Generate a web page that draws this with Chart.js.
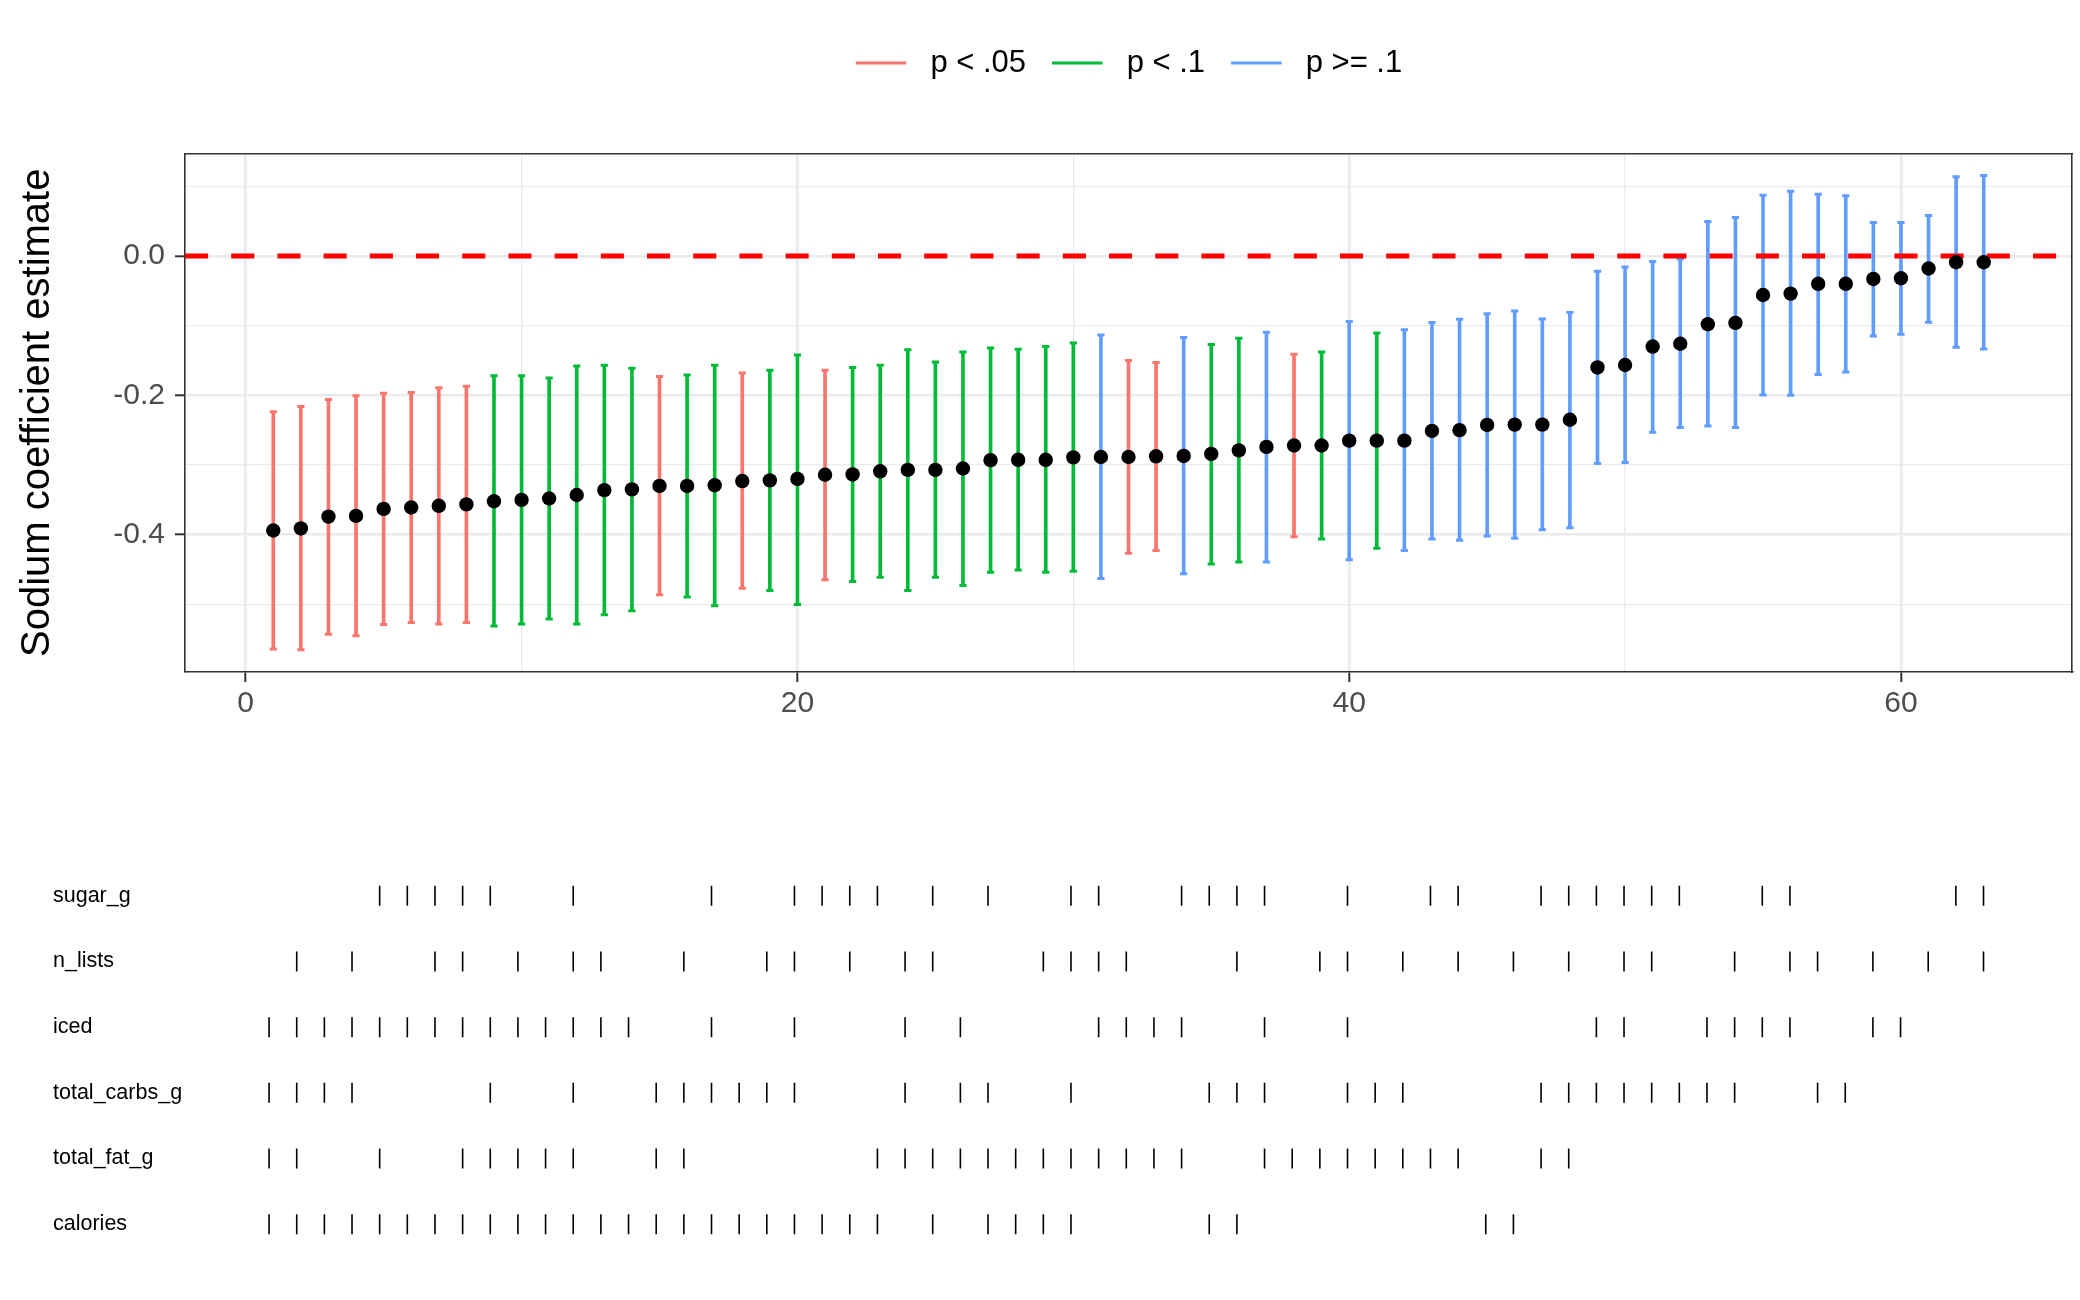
<!DOCTYPE html>
<html><head><meta charset="utf-8">
<script src="https://cdn.jsdelivr.net/npm/chart.js@4.4.0/dist/chart.umd.min.js"></script>
<style>
html,body{margin:0;padding:0;background:#fff;width:2080px;height:1300px;overflow:hidden;}
#top{position:absolute;left:0;top:0;width:2080px;height:732px;}
#bot{position:absolute;left:0;top:850px;width:2080px;height:420px;}
</style></head><body>
<div id="top"><canvas id="c1"></canvas></div>
<div id="bot"><canvas id="c2"></canvas></div>
<script>
// ---------- data ----------
const specIndex = [1,2,3,4,5,6,7,8,9,10,11,12,13,14,15,16,17,18,19,20,21,22,23,24,25,26,27,28,29,30,31,32,33,34,35,36,37,38,39,40,41,42,43,44,45,46,47,48,49,50,51,52,53,54,55,56,57,58,59,60,61,62,63];
const estimate = [-0.394,-0.391,-0.374,-0.373,-0.363,-0.361,-0.3585,-0.3565,-0.352,-0.350,-0.348,-0.343,-0.336,-0.335,-0.330,-0.330,-0.329,-0.323,-0.322,-0.320,
  -0.314,-0.3135,-0.309,-0.307,-0.307,-0.305,-0.293,-0.2925,-0.2925,-0.289,-0.2885,-0.2885,-0.2875,-0.287,-0.284,-0.279,-0.274,-0.272,-0.272,-0.265,
  -0.265,-0.265,-0.251,-0.250,-0.2425,-0.242,-0.242,-0.235,-0.160,-0.1565,-0.130,-0.126,-0.098,-0.096,-0.056,-0.054,-0.040,-0.040,-0.033,-0.032,
  -0.018,-0.009,-0.009];
const ciLow = [-0.564,-0.565,-0.543,-0.545,-0.529,-0.526,-0.528,-0.526,-0.531,-0.528,-0.521,-0.528,-0.515,-0.509,-0.486,-0.4895,-0.502,-0.477,-0.480,-0.500,
  -0.4645,-0.467,-0.461,-0.480,-0.461,-0.473,-0.454,-0.4505,-0.454,-0.4525,-0.463,-0.4265,-0.4225,-0.456,-0.442,-0.439,-0.439,-0.403,-0.406,-0.436,
  -0.4195,-0.4225,-0.406,-0.408,-0.402,-0.405,-0.393,-0.390,-0.298,-0.2965,-0.253,-0.246,-0.244,-0.246,-0.1995,-0.200,-0.170,-0.1665,-0.115,-0.1125,
  -0.095,-0.131,-0.1335];
const ciHigh = [-0.2235,-0.216,-0.206,-0.2005,-0.197,-0.196,-0.189,-0.187,-0.172,-0.172,-0.175,-0.158,-0.157,-0.161,-0.173,-0.171,-0.157,-0.168,-0.164,-0.142,
  -0.164,-0.160,-0.157,-0.1345,-0.152,-0.138,-0.132,-0.134,-0.130,-0.125,-0.1135,-0.150,-0.153,-0.117,-0.127,-0.118,-0.1095,-0.141,-0.138,-0.094,
  -0.1105,-0.106,-0.0955,-0.091,-0.083,-0.079,-0.0905,-0.081,-0.022,-0.016,-0.008,-0.0045,0.0495,0.055,0.087,0.093,0.0885,0.0865,0.048,0.048,
  0.058,0.1135,0.1155];
// 0 = p < .05, 1 = p < .1, 2 = p >= .1
const pGroup = [0,0,0,0,0,0,0,0,1,1,1,1,1,1,0,1,1,0,1,1,
  0,1,1,1,1,1,1,1,1,1,2,0,0,2,1,1,2,0,1,2,
  1,2,2,2,2,2,2,2,2,2,2,2,2,2,2,2,2,2,2,2,
  2,2,2];
const groupLabels = ['p < .05', 'p < .1', 'p >= .1'];
const groupColors = ['#F8766D', '#00BA38', '#619CFF'];

const rowNames = ['sugar_g', 'n_lists', 'iced', 'total_carbs_g', 'total_fat_g', 'calories'];
const sugarG = [5,6,7,8,9,12,17,20,21,22,23,25,27,30,31,34,35,36,37,40,43,44,47,48,49,50,51,52,55,56,62,63];
const nLists = [2,4,7,8,10,12,13,16,19,20,22,24,25,29,30,31,32,36,39,40,42,44,46,48,50,51,54,56,57,59,61,63];
const iced = [1,2,3,4,5,6,7,8,9,10,11,12,13,14,17,20,24,26,31,32,33,34,37,40,49,50,53,54,55,56,59,60];
const totalCarbsG = [1,2,3,4,9,12,15,16,17,18,19,20,24,26,27,30,35,36,37,40,41,42,47,48,49,50,51,52,53,54,57,58];
const totalFatG = [1,2,5,8,9,10,11,12,15,16,23,24,25,26,27,28,29,30,31,32,33,34,37,38,39,40,41,42,43,44,47,48];
const calories = [1,2,3,4,5,6,7,8,9,10,11,12,13,14,15,16,17,18,19,20,21,22,23,25,27,28,29,30,35,36,45,46];
const rowSpecs = [sugarG, nLists, iced, totalCarbsG, totalFatG, calories];

const xTickLabels = ['0', '20', '40', '60'];
const yTickLabels = ['-0.4', '-0.2', '0.0'];

// ---------- styling ----------
const FONT = "'Liberation Sans', Arial, Helvetica, sans-serif";
Chart.defaults.font.family = FONT;
Chart.defaults.color = '#000';
const X_MIN = -2.2, X_MAX = 66.2, Y_MIN = -0.597, Y_MAX = 0.147;
const GRID = '#EBEBEB', FRAME = '#333333', TICKTXT = '#4D4D4D';
const LEGEND_DX = 93;

const legendShift = {
  id: 'legendShift',
  afterLayout(chart) {
    if (chart.legend) { chart.legend.left += LEGEND_DX; chart.legend.right += LEGEND_DX; }
  }
};

// ---------- top chart ----------
const barSets = groupLabels.map((lab, g) => ({
  type: 'bar', label: lab, order: 3, grouped: false,
  backgroundColor: groupColors[g], borderColor: groupColors[g], borderWidth: 0,
  barThickness: 3,
  data: specIndex.filter((s, i) => pGroup[i] === g).map(s => ({x: s, y: [ciLow[s-1], ciHigh[s-1]]}))
}));
const capSets = groupLabels.map((lab, g) => ({
  type: 'scatter', label: 'cap ' + lab, order: 2,
  pointStyle: 'line', pointRadius: 3.6, pointHoverRadius: 3.6,
  pointBorderColor: groupColors[g], pointBorderWidth: 3,
  data: specIndex.filter((s, i) => pGroup[i] === g)
    .flatMap(s => [{x: s, y: ciLow[s-1]}, {x: s, y: ciHigh[s-1]}])
}));
const zeroLine = {
  type: 'line', label: 'zero', order: 1,
  data: [{x: X_MIN, y: 0}, {x: X_MAX, y: 0}],
  borderColor: '#FF0000', borderWidth: 5, borderDash: [23.1, 23.1],
  pointRadius: 0, fill: false, tension: 0
};
const pointSet = {
  type: 'scatter', label: 'estimate', order: 0,
  data: specIndex.map((s, i) => ({x: s, y: estimate[i]})),
  pointRadius: 7.2, pointHoverRadius: 7.2, pointBackgroundColor: '#000', pointBorderWidth: 0
};

const isMajor = (v, step) => Math.abs(v / step - Math.round(v / step)) < 1e-6;

new Chart(document.getElementById('c1'), {
  type: 'scatter',
  data: { datasets: [...barSets, ...capSets, zeroLine, pointSet] },
  plugins: [legendShift],
  options: {
    responsive: true, maintainAspectRatio: false, animation: false, devicePixelRatio: 1,
    events: [],
    layout: { padding: { top: 21.5, left: 0, right: 8, bottom: 0 } },
    plugins: {
      tooltip: { enabled: false },
      legend: {
        position: 'top',
        labels: {
          boxWidth: 50.5, boxHeight: 3, padding: 26,
          color: '#000', font: { size: 31 },
          generateLabels: chart => groupLabels.map((lab, g) => ({
            text: ' ' + lab, fillStyle: groupColors[g], strokeStyle: groupColors[g],
            lineWidth: 0, datasetIndex: g, hidden: false
          }))
        }
      }
    },
    scales: {
      x: {
        type: 'linear', position: 'bottom', min: X_MIN, max: X_MAX, offset: false,
        afterFit: s => { s.height = 60; },
        ticks: {
          stepSize: 10, autoSkip: false, includeBounds: false, maxRotation: 0, padding: 4,
          color: TICKTXT, font: { size: 30 },
          callback: v => isMajor(v, 20) ? xTickLabels[Math.round(v / 20)] : ''
        },
        grid: {
          color: GRID, offset: false,
          lineWidth: c => isMajor(c.tick.value, 20) ? 2.6 : 1.3,
          tickLength: 10, tickWidth: 2,
          tickColor: c => isMajor(c.tick.value, 20) ? FRAME : 'rgba(0,0,0,0)'
        },
        border: { display: true, color: FRAME, width: 1.6 }
      },
      y: {
        type: 'linear', position: 'left', min: Y_MIN, max: Y_MAX,
        afterFit: s => { s.width = 185; },
        title: { display: true, text: 'Sodium coefficient estimate', color: '#000', font: { size: 40 }, padding: { top: 14, bottom: 0 } },
        ticks: {
          stepSize: 0.1, autoSkip: false, includeBounds: false, padding: 10,
          color: TICKTXT, font: { size: 30 },
          callback: v => isMajor(v, 0.2) ? yTickLabels[Math.round(v / 0.2) + 2] : ''
        },
        grid: {
          color: GRID,
          lineWidth: c => isMajor(c.tick.value, 0.2) ? 2.6 : 1.3,
          tickLength: 10, tickWidth: 2,
          tickColor: c => isMajor(c.tick.value, 0.2) ? FRAME : 'rgba(0,0,0,0)'
        },
        border: { display: true, color: FRAME, width: 1.6 }
      },
      x2: {
        type: 'linear', position: 'top', min: X_MIN, max: X_MAX,
        afterFit: s => { s.height = 65; },
        ticks: { display: false }, grid: { display: false, drawTicks: false },
        border: { display: true, color: FRAME, width: 1.6 }
      },
      y2: {
        type: 'linear', position: 'right', min: Y_MIN, max: Y_MAX,
        afterFit: s => { s.width = 0; },
        ticks: { display: false }, grid: { display: false, drawTicks: false },
        border: { display: true, color: FRAME, width: 1.6 }
      }
    }
  }
});

// ---------- bottom (dashboard) chart ----------
const dashSets = rowNames.map((name, r) => ({
  type: 'scatter', label: name,
  data: rowSpecs[r].map(s => ({x: s, y: name})),
  pointStyle: 'line', pointRotation: 90, pointRadius: 10, pointHoverRadius: 10,
  pointBorderColor: '#000', pointBorderWidth: 1.6
}));

new Chart(document.getElementById('c2'), {
  type: 'scatter',
  data: { datasets: dashSets },
  options: {
    responsive: true, maintainAspectRatio: false, animation: false, devicePixelRatio: 1,
    events: [],
    layout: { padding: { top: 0, left: 53, right: 8, bottom: 0 } },
    plugins: { legend: { display: false }, tooltip: { enabled: false } },
    scales: {
      x: { type: 'linear', min: -2.04, max: 66.07, display: false },
      y: {
        type: 'category', labels: rowNames, offset: true,
        afterFit: s => { s.width = 185 - 53; },
        grid: { display: false, drawTicks: false }, border: { display: false },
        ticks: { crossAlign: 'far', padding: 0, color: '#000', font: { size: 21.5 }, autoSkip: false }
      }
    }
  }
});
</script>
</body></html>
